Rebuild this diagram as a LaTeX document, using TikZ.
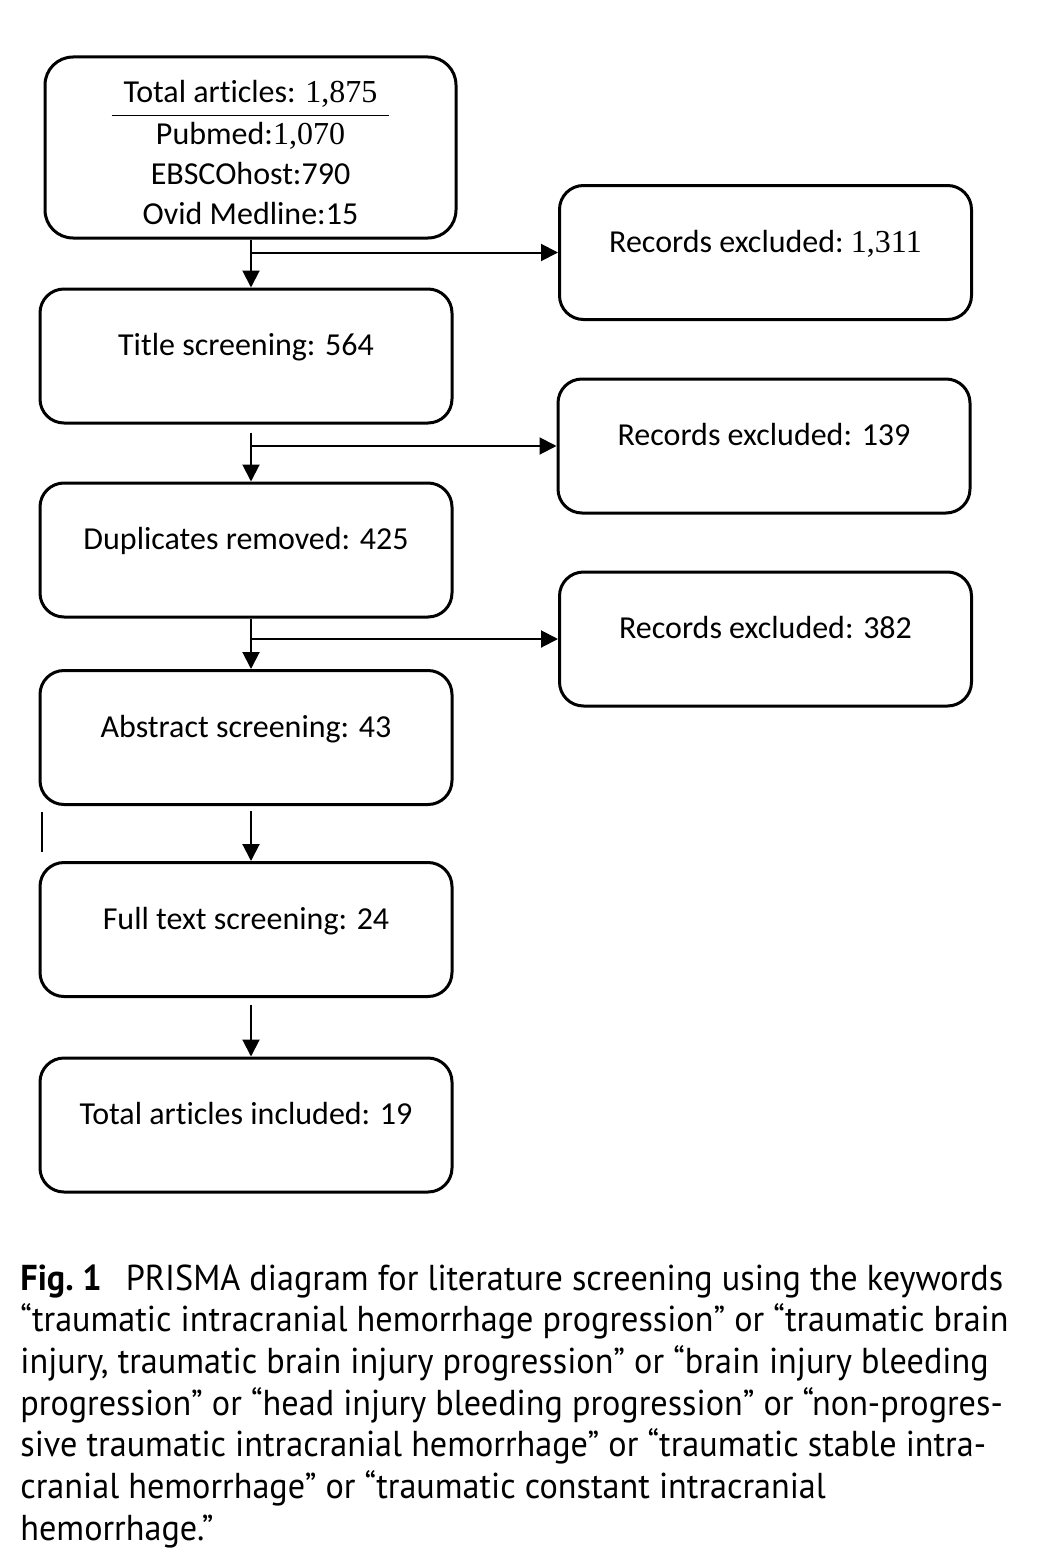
\documentclass[tikz,border=0pt]{standalone}
\usepackage{fontspec}
\setmainfont[Ligatures=NoCommon]{Carlito}
\newfontfamily\numfont{Liberation Serif}
\newfontfamily\capfont[FakeStretch=0.95]{PT Sans}
\usetikzlibrary{arrows.meta}
\tikzset{
  rbox/.style={draw, line width=1.5pt, rounded corners=12pt, minimum width=206pt,
    minimum height=67pt, inner sep=0pt, font=\fontsize{16}{19.2}\selectfont},
  box/.style={rbox, text height=10pt, text depth=10.5pt},
  arr/.style={line width=1pt, -{Triangle[length=8.5pt,width=8.5pt]}}
}
\begin{document}
\begin{tikzpicture}[x=0.5pt,y=-0.5pt]
\useasboundingbox (0,0) rectangle (1038,1568);
\node[rbox, rounded corners=14pt, minimum width=205.5pt, minimum height=90.5pt] (src) at (250.5,147.5) {%
  \fontsize{16}{20}\selectfont\setlength{\arrayrulewidth}{0.9pt}%
  \begin{tabular}{c}
  \rule{0pt}{22pt}Total articles: {\numfont 1,875}\\ \hline
  Pubmed:{\numfont 1,070}\\
  EBSCOhost:790\\
  Ovid Medline:15
  \end{tabular}};
\node[box] (title) at (246,356) {Title screening: 564};
\node[box] (dup) at (246,550) {Duplicates removed: 425};
\node[box] (abs) at (246,737.5) {Abstract screening: 43};
\node[box] (full) at (246,929.5) {Full text screening: 24};
\node[box] (incl) at (246,1125) {Total articles included: 19};
\node[box] (ex1) at (765.5,252.5) {Records excluded:\ {\numfont 1,311}};
\node[box] (ex2) at (764,446) {Records excluded: 139};
\node[box] (ex3) at (765.5,639) {Records excluded: 382};
\coordinate (axis) at (251,0);
% main flow
\draw[arr] (src.south -| axis) -- (title.north -| axis);
\draw[arr, shorten <=4pt] (title.south -| axis) -- (dup.north -| axis);
\draw[arr] (dup.south -| axis) -- (abs.north -| axis);
\draw[arr, shorten <=2.5pt] (abs.south -| axis) -- (full.north -| axis);
\draw[arr, shorten <=3.5pt] (full.south -| axis) -- (incl.north -| axis);
% exclusions
\draw[arr] (ex1.west -| axis) -- (ex1.west);
\draw[arr] (ex2.west -| axis) -- (ex2.west);
\draw[arr] (ex3.west -| axis) -- (ex3.west);
\draw[line width=0.7pt] (42,812) -- (42,852);
\node[anchor=north west, inner sep=0pt, align=left,
  font=\capfont\fontsize{18}{20.85}\selectfont] (cap) at (20,1264) {%
  {\bfseries Fig.~1}\hspace{12pt}PRISMA diagram for literature screening using the keywords\\
  “traumatic intracranial hemorrhage progression” or “traumatic brain\\
  injury, traumatic brain injury progression” or “brain injury bleeding\\
  progression” or “head injury bleeding progression” or “non-progres-\\
  sive traumatic intracranial hemorrhage” or “traumatic stable intra-\\
  cranial hemorrhage” or “traumatic constant intracranial\\
  hemorrhage.”};
\end{tikzpicture}
\end{document}
